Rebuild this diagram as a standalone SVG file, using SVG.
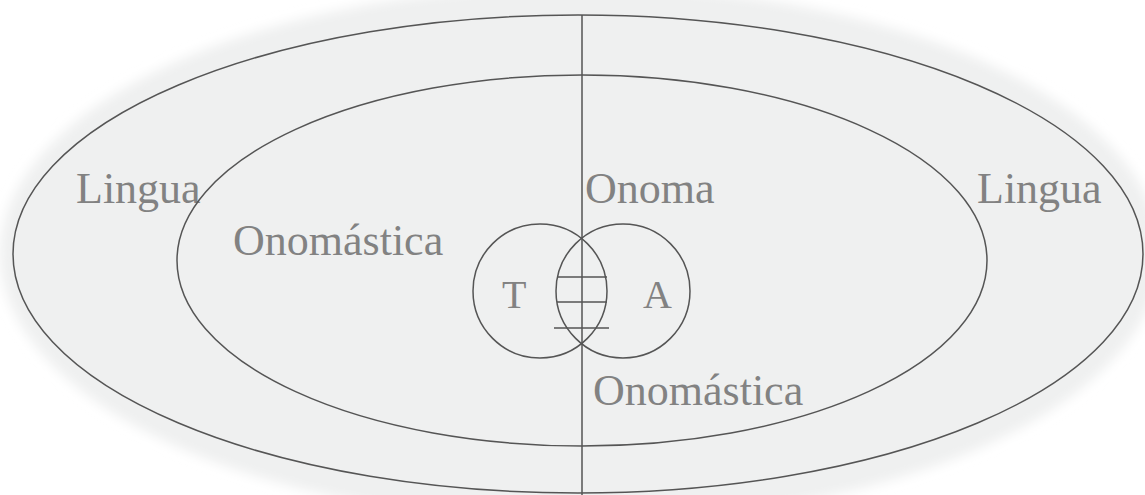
<svg xmlns="http://www.w3.org/2000/svg" width="1145" height="495" viewBox="0 0 1145 495">
  <defs>
    <filter id="soft" x="-10%" y="-10%" width="120%" height="120%">
      <feGaussianBlur stdDeviation="6"/>
    </filter>
    <style>
      .ln { fill: none; stroke: #555555; stroke-width: 1.5; }
      .lbl { font-family: "Liberation Serif", "Times New Roman", serif; font-size: 44px; fill: #828282; }
      .sm { font-family: "Liberation Serif", "Times New Roman", serif; font-size: 40px; fill: #828282; }
    </style>
  </defs>
  <rect width="1145" height="495" fill="#ffffff"/>
  <ellipse cx="580" cy="254" rx="580" ry="268" fill="#eff0f0" filter="url(#soft)"/>

  <g id="outer-lingua">
    <ellipse class="ln" cx="578" cy="254" rx="565" ry="239"/>
    <text class="lbl" x="76" y="203">Lingua</text>
    <text class="lbl" x="977" y="203">Lingua</text>
  </g>

  <g id="inner-onomastica">
    <ellipse class="ln" cx="582" cy="260.5" rx="405" ry="185.5"/>
    <text class="lbl" x="233" y="255">Onomástica</text>
    <text class="lbl" x="593" y="405">Onomástica</text>
  </g>

  <g id="onoma">
    <text class="lbl" x="585" y="203">Onoma</text>
  </g>

  <g id="circle-T">
    <circle class="ln" cx="540" cy="291" r="67"/>
    <text class="sm" x="502" y="308">T</text>
  </g>

  <g id="circle-A">
    <circle class="ln" cx="623" cy="291" r="67"/>
    <text class="sm" x="643" y="308">A</text>
  </g>

  <g id="connectors">
    <line class="ln" x1="582" y1="15" x2="582" y2="495"/>
    <line class="ln" x1="557" y1="277" x2="607" y2="277"/>
    <line class="ln" x1="557" y1="302" x2="607" y2="302"/>
    <line class="ln" x1="554" y1="328" x2="609" y2="328"/>
  </g>
</svg>
